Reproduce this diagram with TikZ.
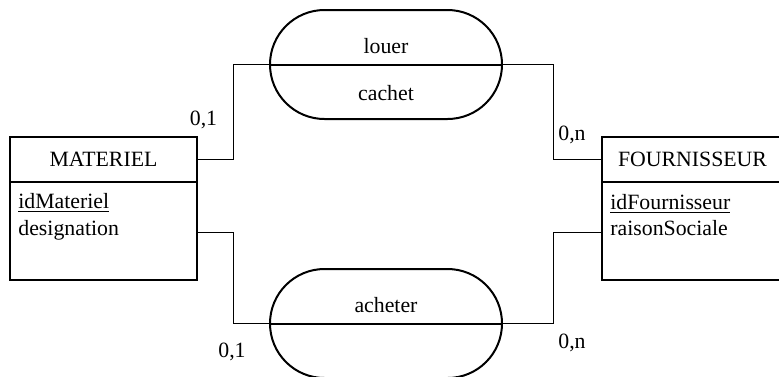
\documentclass[tikz,border=0pt]{standalone}
\usepackage{fontspec}
\setmainfont{Liberation Serif}
\usetikzlibrary{positioning}

\begin{document}
\begin{tikzpicture}[x=0.5pt,y=-0.5pt,font=\fontsize{10.9}{13}\selectfont,
  entity/.style={draw,line width=1pt,minimum width=93.5pt,minimum height=71.5pt,inner sep=0pt},
  entity title/.style={draw,line width=1pt,minimum height=22.5pt,inner sep=0pt,anchor=north},
  assoc/.style={draw,line width=1pt,rounded corners=27.25pt,minimum width=116pt,minimum height=54.5pt,inner sep=0pt},
  attr/.style={anchor=base west,inner sep=0pt},
  card/.style={anchor=base,inner sep=0pt},
  link/.style={line width=0.5pt}]
\useasboundingbox (0,0) rectangle (779,376);

% entites
\node[entity] (mat) at (103.5,208.5) {};
\node[entity title,minimum width=93.5pt] (matTitle) at (mat.north) {MATERIEL};
\node[attr] (matId) at (18,208) {\underline{idMateriel}};
\node[attr] (matDesig) at (18,235) {designation};

\node[entity,minimum width=90.5pt] (fou) at (692.5,208.5) {};
\node[entity title,minimum width=90.5pt] (fouTitle) at (fou.north) {FOURNISSEUR};
\node[attr] (fouId) at (610,209) {\underline{idFournisseur}};
\node[attr] (fouRaison) at (610,235) {raisonSociale};

% associations
\node[assoc] (louer) at (386,64.5) {};
\draw[line width=1pt] (louer.west) -- (louer.east);
\node[card] at (386,53) {louer};
\node[card] at (386,100) {cachet};

\node[assoc] (acheter) at (386,323.5) {};
\draw[line width=1pt] (acheter.west) -- (acheter.east);
\node[card] at (386,312) {acheter};

% liens
\draw[link] (matTitle.east) -- ++(35,0) |- (louer.west);
\draw[link] (louer.east) -- ++(50,0) |- (fouTitle.west);
\draw[link] ([yshift=-12pt]mat.east) -- ++(35,0) |- (acheter.west);
\draw[link] (acheter.east) -- ++(50,0) |- ([yshift=-12pt]fou.west);

% cardinalites
\node[card] at (203.5,125) {0,1};
\node[card] at (572,140) {0,n};
\node[card] at (232,357) {0,1};
\node[card] at (572,348) {0,n};
\end{tikzpicture}
\end{document}
